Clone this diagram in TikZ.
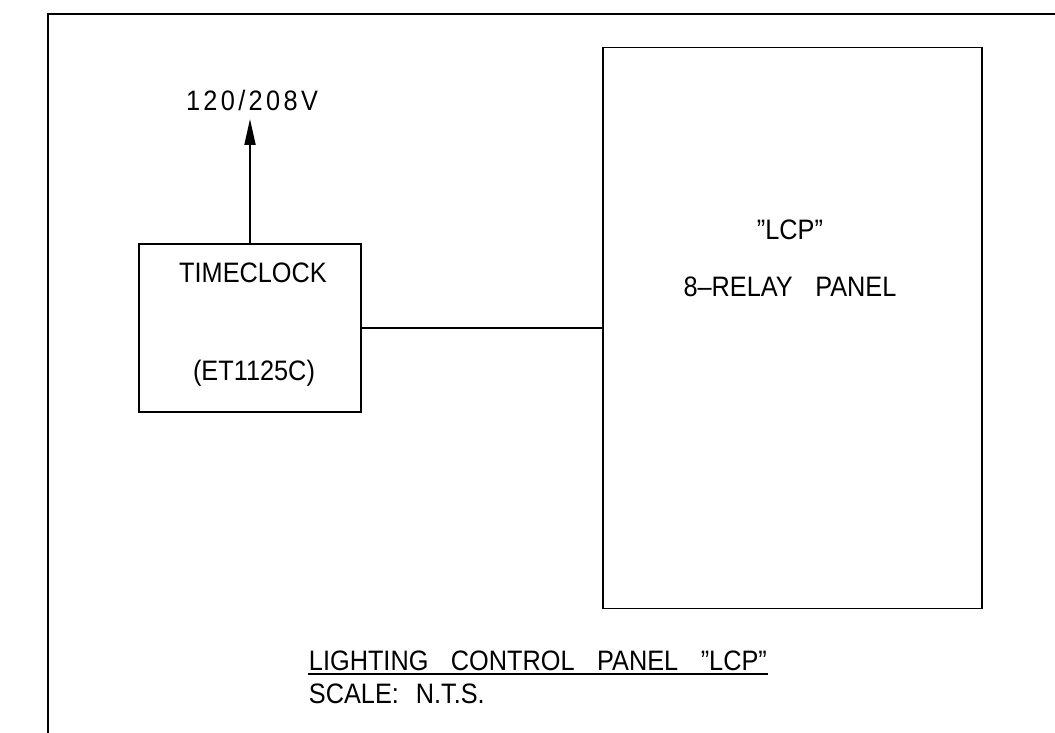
\documentclass[tikz,border=0pt]{standalone}
\usepackage{fontspec}
\setmainfont{Liberation Sans}[FakeStretch=0.9]
\usepackage{tikz}
\usetikzlibrary{positioning, arrows.meta}
\definecolor{InkBlack}{RGB}{0,0,0}
\newcommand{\wgap}{\hspace{0.8em}}

\begin{document}
\begin{tikzpicture}[x=0.2mm, y=-0.2mm, line width=1.1pt, InkBlack,
    font=\fontsize{16}{19}\selectfont,
    unitbox/.style={draw, rectangle, inner sep=0pt},
    caption/.style={inner sep=0pt}]
  \useasboundingbox (0,0) rectangle (1055,733);
  % sheet border (top and left edge)
  \draw (1055,14) -- (48,14) -- (48,733);
  % the two units
  \node[unitbox, minimum width=44.4mm, minimum height=33.6mm] (clock) at (250,328) {};
  \node[unitbox, minimum width=75.8mm, minimum height=112.2mm] (lcp) at (792.5,328) {};
  \node[caption] at (253,273) {TIMECLOCK};
  \node[caption] at (254,373) {(ET1125C)};
  \node[caption] at (790,230) {”LCP”};
  \node[caption] at (790,287) {8–RELAY\wgap PANEL};
  % supply
  \coordinate (supply) at (250,119);
  \node[caption, anchor=base] (volts) at (252,111)
    {\addfontfeature{LetterSpace=12}120/208V};
  \draw[-{Triangle[length=5.2mm, width=2.2mm]}] (clock.north) -- (supply);
  \draw (clock.east) -- (lcp.west);
  % title
  \node[caption, anchor=base west] (title) at (308,670)
    {LIGHTING\wgap CONTROL\wgap PANEL\wgap ”LCP”};
  \draw ([yshift=-0.8mm]title.base west) -- ([yshift=-0.8mm]title.base east);
  \node[caption, anchor=base west] (scale) at (308,703) {SCALE:\hspace{0.6em}N.T.S.};
\end{tikzpicture}
\end{document}
